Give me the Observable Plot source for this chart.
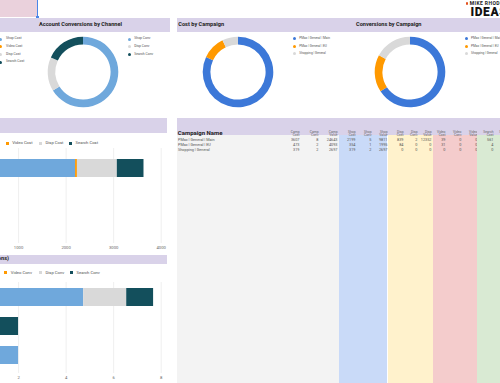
<!DOCTYPE html>
<html><head><meta charset="utf-8">
<script src="https://cdn.jsdelivr.net/npm/d3@7"></script>
<script src="https://cdn.jsdelivr.net/npm/@observablehq/plot@0.6"></script>
<style>
html,body{margin:0;padding:0;background:#fff;}
#page{position:relative;width:500px;height:383px;overflow:hidden;font-family:Roboto,"Liberation Sans",sans-serif;color:#333;}
#page div{position:absolute;white-space:nowrap;}
</style>
</head><body><div id="page"></div>
<script>
// ---------------- data ----------------
const campaigns = ["PMax | General | Main", "PMax | General | EU", "Shopping | General"];
const campCost   = [3607, 473, 319];
const campConv   = [7.68, 2, 2];
const campValue  = [24643, 4093, 2697];
const shopCost   = [2199, 354, 319];
const shopConv   = [4.74, 1, 2];
const shopValue  = [9811, 1995, 2697];
const dispCost   = [839, 84, 0];
const dispConv   = [1.81, 0, 0];
const dispValue  = [12352, 0, 0];
const videoCost  = [39, 31, 0];
const videoConv  = [0, 0, 0];
const videoValue = [0, 0, 0];
const searchCost = [561, 4, 0];
const searchConv = [1.13, 1, 0];

const costChannels = ["Shop Cost", "Video Cost", "Disp Cost", "Search Cost"];
const convChannels = ["Shop Conv", "Video Conv", "Disp Conv", "Search Conv"];
const accountConvChannels = ["Shop Conv", "Disp Conv", "Search Conv"];
const costTicks = [1000, 2000, 3000, 4000];
const convTicks = [2, 4, 6, 8];

// ---------------- styles ----------------
const FONT = "Roboto, 'Liberation Sans', sans-serif";
const LAV = "#d9d2e9";
const chColor = {"Shop Cost":"#6fa8dc","Video Cost":"#ff9900","Disp Cost":"#d9d9d9","Search Cost":"#134f5c",
                 "Shop Conv":"#6fa8dc","Video Conv":"#ff9900","Disp Conv":"#d9d9d9","Search Conv":"#134f5c"};
const campColors = ["#3c78d8", "#ff9900", "#d9d9d9"];

const page = document.getElementById("page");
function el(css, text) {
  const d = document.createElement("div");
  d.style.cssText = css;
  if (text != null) d.textContent = text;
  page.appendChild(d);
  return d;
}
function txt(x, yc, text, size, css = "") {
  return el(`left:${x}px;top:${yc - size / 2}px;font-size:${size}px;line-height:${size}px;${css}`, text);
}
function place(svg, left, top) {
  svg.style.position = "absolute";
  svg.style.left = left + "px";
  svg.style.top = top + "px";
  page.appendChild(svg);
}

// ---------------- static layout ----------------
el(`left:0;top:0;width:37px;height:17px;background:#ead1dc;border-right:1px solid #4a86e8;`);
el(`left:36px;top:16px;width:2.5px;height:2.5px;background:#4a86e8;`);

// title bands
el(`left:0;top:18px;width:170px;height:14px;background:${LAV};`);
el(`left:177px;top:18px;width:323px;height:14px;background:${LAV};`);
txt(39, 25.2, "Account Conversions by Channel", 5.6, "font-weight:bold;color:#222;");
txt(178.3, 25.2, "Cost by Campaign", 5.6, "font-weight:bold;color:#222;");
txt(356, 25.2, "Conversions by Campaign", 5.6, "font-weight:bold;color:#222;");

el(`left:0;top:118px;width:167px;height:15px;background:${LAV};`);
el(`left:0;top:255px;width:167px;height:8.5px;background:${LAV};`);
el(`right:491px;top:256.3px;font-size:5.6px;line-height:5.6px;font-weight:bold;color:#222;`, "Campaign Channels (Conversions)");

// logo
el(`left:465.7px;top:2px;width:2.6px;height:2.6px;border-radius:50%;background:#e2501f;`);
txt(469.8, 3.3, "MIKE RHODES", 5, "font-weight:bold;letter-spacing:0.4px;color:#222;");
el(`left:470.5px;top:5.6px;font-size:12px;line-height:12px;font-weight:900;letter-spacing:0.6px;color:#111;`, "IDEAS");

// ---------------- legends ----------------
function vLegend(dotX, textX, y0, labels, colors, size) {
  labels.forEach((l, i) => {
    const y = y0 + i * 7.7;
    el(`left:${dotX - 1.5}px;top:${y - 1.5}px;width:3px;height:3px;border-radius:50%;background:${colors[i]};`);
    txt(textX, y, l, size, "color:#555;");
  });
}
vLegend(0.5, 6, 39, costChannels, costChannels.map(c => chColor[c]), 3.4);
vLegend(129.5, 134.3, 39, accountConvChannels, accountConvChannels.map(c => chColor[c]), 3.4);
vLegend(294.3, 299.3, 38.5, campaigns, campColors, 3.2);
vLegend(466.5, 471, 38.5, campaigns, campColors, 3.2);

function hLegend(items, xs, y) {
  items.forEach((l, i) => {
    el(`left:${xs[i]}px;top:${y - 1.5}px;width:3px;height:3px;background:${chColor[l]};`);
    txt(xs[i] + 6.5, y, l, 4.2, "color:#555;");
  });
}
hLegend(costChannels.slice(1), [5.7, 39, 69], 143);
hLegend(convChannels.slice(1), [4.3, 39, 70], 272.7);

// ---------------- donuts ----------------
function donut(cx, cy, labels, values, colors) {
  const size = 80, rOut = 35.3, rIn = 27.6;
  const color = d3.scaleOrdinal(labels, colors);
  const arcs = d3.pie().sort(null).value(d => d.value)(labels.map((label, i) => ({label, value: values[i]})));
  const arc = d3.arc().innerRadius(rIn).outerRadius(rOut);
  const svg = Plot.plot({
    width: size, height: size, margin: 0,
    style: {background: "transparent"},
    marks: [() => {
      const g = d3.create("svg:g").attr("transform", `translate(${size / 2},${size / 2})`);
      g.selectAll("path").data(arcs).join("path").attr("d", arc).attr("fill", d => color(d.data.label));
      return g.node();
    }]
  });
  place(svg, cx - size / 2, cy - size / 2);
}
donut(83.3, 72.3, accountConvChannels, [d3.sum(shopConv), d3.sum(dispConv), d3.sum(searchConv)],
      accountConvChannels.map(c => chColor[c]));
donut(237.7, 72.3, campaigns, campCost, campColors);
donut(410, 72.3, campaigns, campConv, campColors);

// ---------------- stacked bars ----------------
function barPlot({channels, arrays, domain, ticks, top, height, mTop, mBottom, yRange, padding}) {
  const rows = campaigns.flatMap((c, i) => arrays.map((arr, j) => ({campaign: c, channel: channels[j], value: arr[i]})));
  const svg = Plot.plot({
    width: 167, height, marginTop: mTop, marginBottom: mBottom, marginLeft: 0, marginRight: 0,
    style: {background: "transparent", fontFamily: FONT, fontSize: "4.2px", color: "#666"},
    x: {domain, range: [-29.5, 160.7], grid: true, ticks, tickFormat: "d", tickSize: 0, tickPadding: 2.6, label: null},
    y: {domain: campaigns, range: yRange, padding, axis: null},
    color: {domain: channels, range: channels.map(c => chColor[c])},
    marks: [Plot.barX(rows, {x: "value", y: "campaign", fill: "channel"})]
  });
  place(svg, 0, top);
}
barPlot({channels: costChannels, arrays: [shopCost, videoCost, dispCost, searchCost],
  domain: [0, 4000], ticks: costTicks, top: 133, height: 120, mTop: 15, mBottom: 10,
  yRange: [14.7, 111.7], padding: 0.345});
barPlot({channels: convChannels, arrays: [shopConv, videoConv, dispConv, searchConv],
  domain: [0, 8], ticks: convTicks, top: 263, height: 120, mTop: 19, mBottom: 10,
  yRange: [14.27, 112], padding: 0.37});

// ---------------- table ----------------
el(`left:177px;top:118px;width:323px;height:17px;background:${LAV};`);
el(`left:177px;top:135px;width:162px;height:248px;background:#f3f3f3;`);
el(`left:339px;top:135px;width:48px;height:248px;background:#c9daf8;`);
el(`left:388px;top:135px;width:45px;height:248px;background:#fff2cc;`);
el(`left:433px;top:135px;width:44px;height:248px;background:#f4cccc;`);
el(`left:477px;top:135px;width:23px;height:248px;background:#d9ead3;`);

const rowRange = [20.8, 31.8];
const fmt = d3.format(".0f");

// name column
place(Plot.plot({
  width: 106, height: 40, margin: 0,
  style: {background: "transparent", fontFamily: FONT},
  y: {type: "point", domain: campaigns, range: rowRange, padding: 0, axis: null},
  marks: [
    Plot.text(["Campaign Name"], {frameAnchor: "top-left", dy: 12, dx: 0.3, text: d => d, fontWeight: "bold", fontSize: 6, fill: "#222"}),
    Plot.text(campaigns, {y: d => d, text: d => d, frameAnchor: "left", dx: 0.5, fontSize: 3.8, fill: "#555"})
  ]
}), 177, 118);

function tableGroup(left, width, xRange, heads, arrays) {
  const cells = campaigns.flatMap((c, i) => heads.map((h, j) => ({campaign: c, head: h, value: arrays[j][i]})));
  place(Plot.plot({
    width, height: 40, margin: 0,
    style: {background: "transparent", fontFamily: FONT},
    x: {type: "point", domain: heads, range: xRange, padding: 0, axis: null},
    y: {type: "point", domain: campaigns, range: rowRange, padding: 0, axis: null},
    marks: [
      Plot.text(heads, {x: d => d, text: d => d.replace(" ", "\n"), frameAnchor: "top", dy: 12,
        textAnchor: "end", lineHeight: 1.05, fontSize: 3.3, fill: "#666"}),
      Plot.text(cells, {x: "head", y: "campaign", text: d => fmt(d.value), textAnchor: "end", fontSize: 3.8, fill: "#555"})
    ]
  }), left, 118);
}
tableGroup(283, 56, [15, 54], ["Camp Cost", "Camp Conv", "Camp Value"], [campCost, campConv, campValue]);
tableGroup(339, 49, [16, 48], ["Shop Cost", "Shop Conv", "Shop Value"], [shopCost, shopConv, shopValue]);
tableGroup(388, 45, [14, 43], ["Disp Cost", "Disp Conv", "Disp Value"], [dispCost, dispConv, dispValue]);
tableGroup(433, 44, [12, 44], ["Video Cost", "Video Conv", "Video Value"], [videoCost, videoConv, videoValue]);
tableGroup(477, 40, [16, 32], ["Search Cost", "Search Conv"], [searchCost, searchConv]);
</script></body></html>
